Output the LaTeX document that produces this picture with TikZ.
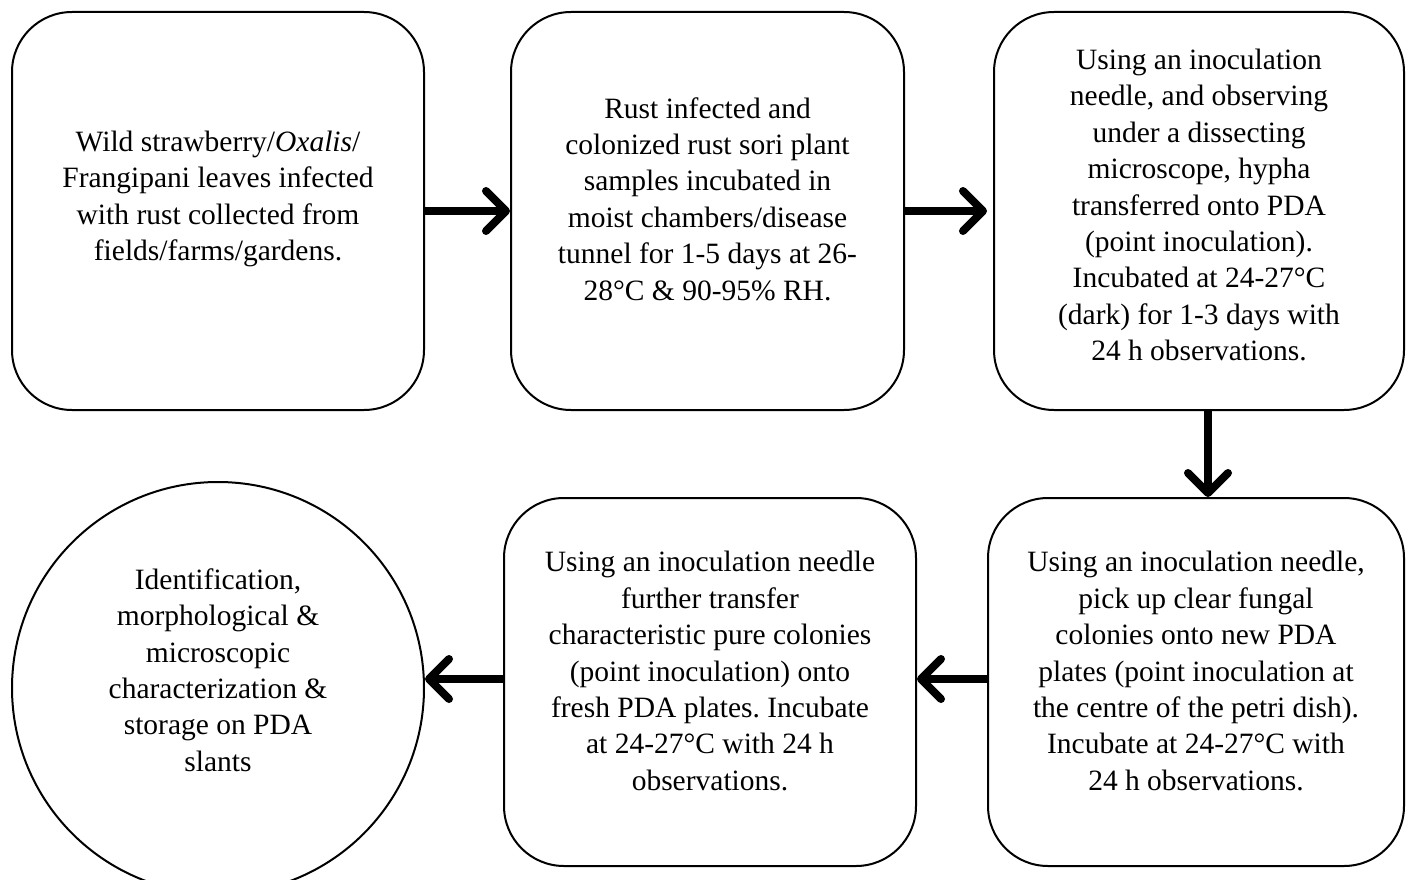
\documentclass[tikz,border=0pt]{standalone}
\usepackage{fontspec}
\setmainfont{Liberation Serif}
\usetikzlibrary{arrows.meta,calc}
\frenchspacing
\begin{document}
\begin{tikzpicture}[x=1pt,y=-1pt,
  box/.style={draw, line width=2pt, rounded corners=60pt, inner sep=0pt},
  txt/.style={align=center, font=\fontsize{29.5}{36.4}\selectfont},
  arr/.style={line width=8pt, -{Straight Barb[length=20pt,width=40pt,line width=8pt,round]}}]
\clip (0,0) rectangle (1411,880);
\useasboundingbox (0,0) rectangle (1411,880);
\fill[white] (0,0) rectangle (1411,880);
\node[box, minimum width=412pt, minimum height=398pt] (b1) at (218,211) {};
\node[box, minimum width=393pt, minimum height=398pt] (b2) at (707.5,211) {};
\node[box, minimum width=410pt, minimum height=398pt] (b3) at (1199,211) {};
\node[box, minimum width=416pt, minimum height=368pt] (b4) at (1196,682) {};
\node[box, minimum width=412pt, minimum height=368pt] (b5) at (710,682) {};
\node[draw, line width=2pt, circle, minimum size=412pt, inner sep=0pt] (c) at (218,688) {};
\node[txt] (t1) at (218,199) {Wild strawberry/\textit{Oxalis}/\\Frangipani leaves infected\\with rust collected from\\fields/farms/gardens.};
\node[txt] (t2) at (707.5,199) {Rust infected and\\colonized rust sori plant\\samples incubated in\\moist chambers/disease\\tunnel for 1-5 days at 26-\\28°C \& 90-95\% RH.};
\node[txt] (t3) at (1199,205) {Using an inoculation\\needle, and observing\\under a dissecting\\microscope, hypha\\transferred onto PDA\\(point inoculation).\\Incubated at 24-27°C\\(dark) for 1-3 days with\\24 h observations.};
\node[txt] (t4) at (1196,671) {Using an inoculation needle,\\pick up clear fungal\\colonies onto new PDA\\plates (point inoculation at\\the centre of the petri dish).\\Incubate at 24-27°C with\\24 h observations.};
\node[txt] (t5) at (710,671) {Using an inoculation needle\\further transfer\\characteristic pure colonies\\(point inoculation) onto\\fresh PDA plates. Incubate\\at 24-27°C with 24 h\\observations.};
\node[txt] (t6) at (218,670) {Identification,\\morphological \&\\microscopic\\characterization \&\\storage on PDA\\slants};
\draw[arr] (b1.east) -- (b2.west);
\draw[arr, shorten >=6pt] (b2.east) -- (b3.west);
\draw[arr] ([xshift=9pt]b3.south) -- ([xshift=9pt]b3.south |- b4.north);
\draw[arr] ([yshift=3pt]b4.west) -- ([yshift=3pt]b4.west -| b5.east);
\draw[arr] ([yshift=3pt]b5.west) -- ([yshift=3pt]b5.west -| c.east);
\end{tikzpicture}
\end{document}
